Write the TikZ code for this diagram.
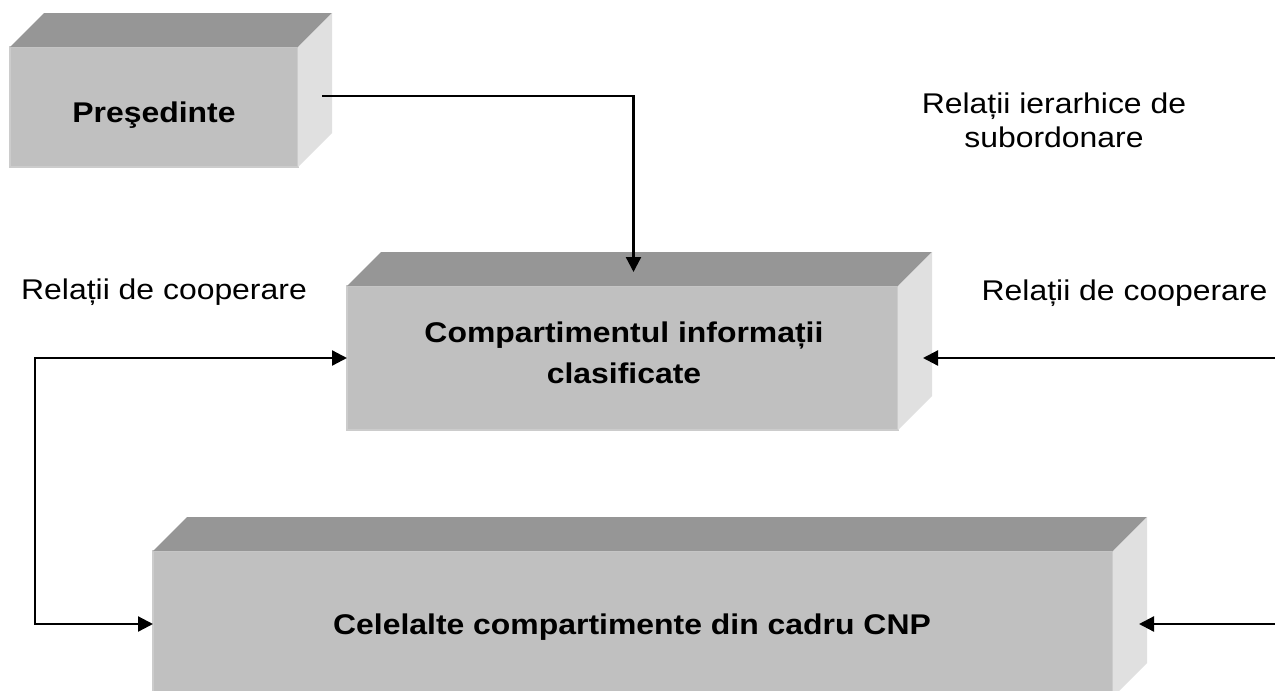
\documentclass[tikz,border=0pt]{standalone}
\usepackage{fontspec}
\setmainfont{Liberation Sans}[FakeStretch=1.12]
\usetikzlibrary{arrows.meta,calc}
\definecolor{frontc}{RGB}{192,192,192}
\definecolor{topc}{RGB}{150,150,150}
\definecolor{sidec}{RGB}{224,224,224}
\definecolor{edgec}{RGB}{204,204,204}
\begin{document}
\begin{tikzpicture}[x=1pt,y=-1pt,
  face/.style={draw=edgec, line width=1.2pt, fill=frontc, rectangle, inner sep=0pt, outer sep=0pt},
  btext/.style={font=\fontsize{28.5}{41}\selectfont\bfseries, inner sep=0pt, align=center},
  rtext/.style={font=\fontsize{28.5}{35}\selectfont, inner sep=0pt, align=center},
  conn/.style={line width=2.3pt, -{Triangle[length=15pt,width=15pt]}},
  dconn/.style={line width=2.3pt, {Triangle[length=15pt,width=15pt]}-{Triangle[length=15pt,width=15pt]}},
]
\clip (0,0) rectangle (1275,691);
\fill[white] (0,0) rectangle (1275,691);

% ---- boxes (front faces)
\node[face, minimum width=288pt, minimum height=120pt] (pres) at (154,107) {};
\node[face, minimum width=551pt, minimum height=144pt] (comp) at (622.5,358) {};
\node[face, minimum width=960pt, minimum height=146pt] (cel) at (633,624) {};

% ---- top and side faces
\foreach \b in {pres,comp,cel}{
  \fill[topc] (\b.north west) -- ++(34,-34) -- ($(\b.north east)+(34,-34)$) -- (\b.north east) -- cycle;
  \fill[sidec] (\b.north east) -- ++(34,-34) -- ($(\b.south east)+(34,-34)$) -- (\b.south east) -- cycle;
}

% ---- box texts
\node[btext, anchor=base] (prestext) at (154,122) {Preşedinte};
\node[btext, anchor=base] (comptext1) at (624,342) {Compartimentul informații};
\node[btext, anchor=base] (comptext2) at (624,383) {clasificate};
\node[btext, anchor=base] (celtext) at (632,634) {Celelalte compartimente din cadru CNP};

% ---- free labels
\node[rtext, anchor=base] (ierar1) at (1054,113) {Relații ierarhice de};
\node[rtext, anchor=base] (ierar2) at (1054,147) {subordonare};
\node[rtext, anchor=base] (coopL) at (164,299) {Relații de cooperare};
\node[rtext, anchor=base] (coopR) at (1124.5,300) {Relații de cooperare};

% ---- connectors
\coordinate (presout) at ($(pres.east)+(24,-11)$);
\coordinate (compin) at ($(comp.north)+(11,-14)$);
\draw[conn] (presout) -| (compin);

\coordinate (lx) at (35,0);
\draw[dconn] (comp.west) -- (comp.west -| lx) |- (cel.west);

\coordinate (redge2) at (1276,358);
\coordinate (compside) at ($(comp.east)+(25,0)$);
\draw[conn] (redge2) -- (compside);

\coordinate (redge3) at (1276,624);
\coordinate (celside) at ($(cel.east)+(26,0)$);
\draw[conn] (redge3) -- (celside);
\end{tikzpicture}
\end{document}
